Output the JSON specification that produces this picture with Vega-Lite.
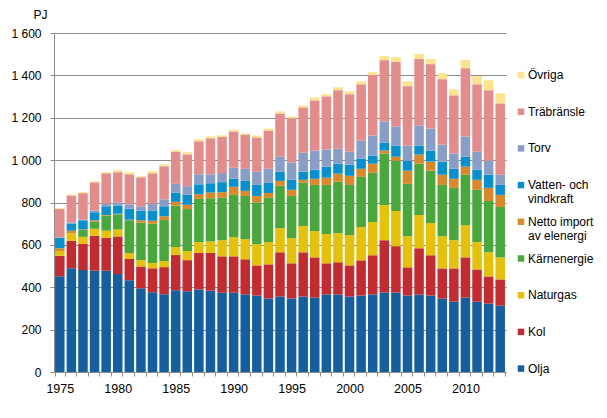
{
  "$schema": "https://vega.github.io/schema/vega-lite/v6.json",
  "width": 452,
  "height": 339,
  "autosize": {"type": "none"},
  "padding": {"left": 54, "top": 33, "right": 101, "bottom": 46},
  "config": {
    "view": {"stroke": null},
    "font": "Liberation Sans",
    "axis": {
      "labelFont": "Liberation Sans",
      "labelFontSize": 12,
      "labelColor": "#000000",
      "domainColor": "#8c8c8c",
      "tickColor": "#8c8c8c",
      "gridColor": "#8c8c8c",
      "gridOpacity": 1,
      "tickSize": 4
    }
  },
  "data": {
    "values": [
      {"year": 1975, "source": "Olja", "pj": 452}, {"year": 1975, "source": "Kol", "pj": 96}, {"year": 1975, "source": "Naturgas", "pj": 23}, {"year": 1975, "source": "Kärnenergie", "pj": 0}, {"year": 1975, "source": "Netto import av elenergi", "pj": 13}, {"year": 1975, "source": "Vatten- och vindkraft", "pj": 49}, {"year": 1975, "source": "Torv", "pj": 2}, {"year": 1975, "source": "Träbränsle", "pj": 134}, {"year": 1975, "source": "Övriga", "pj": 4},
      {"year": 1976, "source": "Olja", "pj": 490}, {"year": 1976, "source": "Kol", "pj": 129}, {"year": 1976, "source": "Naturgas", "pj": 35}, {"year": 1976, "source": "Kärnenergie", "pj": 0}, {"year": 1976, "source": "Netto import av elenergi", "pj": 13}, {"year": 1976, "source": "Vatten- och vindkraft", "pj": 34}, {"year": 1976, "source": "Torv", "pj": 5}, {"year": 1976, "source": "Träbränsle", "pj": 127}, {"year": 1976, "source": "Övriga", "pj": 5},
      {"year": 1977, "source": "Olja", "pj": 481}, {"year": 1977, "source": "Kol", "pj": 124}, {"year": 1977, "source": "Naturgas", "pj": 33}, {"year": 1977, "source": "Kärnenergie", "pj": 32}, {"year": 1977, "source": "Netto import av elenergi", "pj": 3}, {"year": 1977, "source": "Vatten- och vindkraft", "pj": 43}, {"year": 1977, "source": "Torv", "pj": 3}, {"year": 1977, "source": "Träbränsle", "pj": 125}, {"year": 1977, "source": "Övriga", "pj": 5},
      {"year": 1978, "source": "Olja", "pj": 478}, {"year": 1978, "source": "Kol", "pj": 165}, {"year": 1978, "source": "Naturgas", "pj": 33}, {"year": 1978, "source": "Kärnenergie", "pj": 33}, {"year": 1978, "source": "Netto import av elenergi", "pj": 7}, {"year": 1978, "source": "Vatten- och vindkraft", "pj": 38}, {"year": 1978, "source": "Torv", "pj": 8}, {"year": 1978, "source": "Träbränsle", "pj": 133}, {"year": 1978, "source": "Övriga", "pj": 5},
      {"year": 1979, "source": "Olja", "pj": 478}, {"year": 1979, "source": "Kol", "pj": 155}, {"year": 1979, "source": "Naturgas", "pj": 34}, {"year": 1979, "source": "Kärnenergie", "pj": 71}, {"year": 1979, "source": "Netto import av elenergi", "pj": 3}, {"year": 1979, "source": "Vatten- och vindkraft", "pj": 41}, {"year": 1979, "source": "Torv", "pj": 13}, {"year": 1979, "source": "Träbränsle", "pj": 143}, {"year": 1979, "source": "Övriga", "pj": 5},
      {"year": 1980, "source": "Olja", "pj": 462}, {"year": 1980, "source": "Kol", "pj": 178}, {"year": 1980, "source": "Naturgas", "pj": 33}, {"year": 1980, "source": "Kärnenergie", "pj": 71}, {"year": 1980, "source": "Netto import av elenergi", "pj": 3}, {"year": 1980, "source": "Vatten- och vindkraft", "pj": 39}, {"year": 1980, "source": "Torv", "pj": 15}, {"year": 1980, "source": "Träbränsle", "pj": 142}, {"year": 1980, "source": "Övriga", "pj": 9},
      {"year": 1981, "source": "Olja", "pj": 433}, {"year": 1981, "source": "Kol", "pj": 100}, {"year": 1981, "source": "Naturgas", "pj": 29}, {"year": 1981, "source": "Kärnenergie", "pj": 154}, {"year": 1981, "source": "Netto import av elenergi", "pj": 3}, {"year": 1981, "source": "Vatten- och vindkraft", "pj": 52}, {"year": 1981, "source": "Torv", "pj": 21}, {"year": 1981, "source": "Träbränsle", "pj": 141}, {"year": 1981, "source": "Övriga", "pj": 10},
      {"year": 1982, "source": "Olja", "pj": 395}, {"year": 1982, "source": "Kol", "pj": 103}, {"year": 1982, "source": "Naturgas", "pj": 30}, {"year": 1982, "source": "Kärnenergie", "pj": 177}, {"year": 1982, "source": "Netto import av elenergi", "pj": 11}, {"year": 1982, "source": "Vatten- och vindkraft", "pj": 46}, {"year": 1982, "source": "Torv", "pj": 20}, {"year": 1982, "source": "Träbränsle", "pj": 137}, {"year": 1982, "source": "Övriga", "pj": 5},
      {"year": 1983, "source": "Olja", "pj": 376}, {"year": 1983, "source": "Kol", "pj": 114}, {"year": 1983, "source": "Naturgas", "pj": 24}, {"year": 1983, "source": "Kärnenergie", "pj": 186}, {"year": 1983, "source": "Netto import av elenergi", "pj": 14}, {"year": 1983, "source": "Vatten- och vindkraft", "pj": 48}, {"year": 1983, "source": "Torv", "pj": 32}, {"year": 1983, "source": "Träbränsle", "pj": 144}, {"year": 1983, "source": "Övriga", "pj": 9},
      {"year": 1984, "source": "Olja", "pj": 367}, {"year": 1984, "source": "Kol", "pj": 128}, {"year": 1984, "source": "Naturgas", "pj": 29}, {"year": 1984, "source": "Kärnenergie", "pj": 193}, {"year": 1984, "source": "Netto import av elenergi", "pj": 18}, {"year": 1984, "source": "Vatten- och vindkraft", "pj": 47}, {"year": 1984, "source": "Torv", "pj": 33}, {"year": 1984, "source": "Träbränsle", "pj": 156}, {"year": 1984, "source": "Övriga", "pj": 9},
      {"year": 1985, "source": "Olja", "pj": 386}, {"year": 1985, "source": "Kol", "pj": 166}, {"year": 1985, "source": "Naturgas", "pj": 38}, {"year": 1985, "source": "Kärnenergie", "pj": 195}, {"year": 1985, "source": "Netto import av elenergi", "pj": 18}, {"year": 1985, "source": "Vatten- och vindkraft", "pj": 43}, {"year": 1985, "source": "Torv", "pj": 42}, {"year": 1985, "source": "Träbränsle", "pj": 152}, {"year": 1985, "source": "Övriga", "pj": 8},
      {"year": 1986, "source": "Olja", "pj": 381}, {"year": 1986, "source": "Kol", "pj": 147}, {"year": 1986, "source": "Naturgas", "pj": 43}, {"year": 1986, "source": "Kärnenergie", "pj": 198}, {"year": 1986, "source": "Netto import av elenergi", "pj": 20}, {"year": 1986, "source": "Vatten- och vindkraft", "pj": 47}, {"year": 1986, "source": "Torv", "pj": 41}, {"year": 1986, "source": "Träbränsle", "pj": 150}, {"year": 1986, "source": "Övriga", "pj": 10},
      {"year": 1987, "source": "Olja", "pj": 390}, {"year": 1987, "source": "Kol", "pj": 172}, {"year": 1987, "source": "Naturgas", "pj": 51}, {"year": 1987, "source": "Kärnenergie", "pj": 204}, {"year": 1987, "source": "Netto import av elenergi", "pj": 22}, {"year": 1987, "source": "Vatten- och vindkraft", "pj": 47}, {"year": 1987, "source": "Torv", "pj": 47}, {"year": 1987, "source": "Träbränsle", "pj": 156}, {"year": 1987, "source": "Övriga", "pj": 9},
      {"year": 1988, "source": "Olja", "pj": 384}, {"year": 1988, "source": "Kol", "pj": 178}, {"year": 1988, "source": "Naturgas", "pj": 54}, {"year": 1988, "source": "Kärnenergie", "pj": 204}, {"year": 1988, "source": "Netto import av elenergi", "pj": 27}, {"year": 1988, "source": "Vatten- och vindkraft", "pj": 44}, {"year": 1988, "source": "Torv", "pj": 42}, {"year": 1988, "source": "Träbränsle", "pj": 170}, {"year": 1988, "source": "Övriga", "pj": 9},
      {"year": 1989, "source": "Olja", "pj": 374}, {"year": 1989, "source": "Kol", "pj": 172}, {"year": 1989, "source": "Naturgas", "pj": 76}, {"year": 1989, "source": "Kärnenergie", "pj": 200}, {"year": 1989, "source": "Netto import av elenergi", "pj": 27}, {"year": 1989, "source": "Vatten- och vindkraft", "pj": 47}, {"year": 1989, "source": "Torv", "pj": 43}, {"year": 1989, "source": "Träbränsle", "pj": 170}, {"year": 1989, "source": "Övriga", "pj": 8},
      {"year": 1990, "source": "Olja", "pj": 374}, {"year": 1990, "source": "Kol", "pj": 172}, {"year": 1990, "source": "Naturgas", "pj": 90}, {"year": 1990, "source": "Kärnenergie", "pj": 200}, {"year": 1990, "source": "Netto import av elenergi", "pj": 38}, {"year": 1990, "source": "Vatten- och vindkraft", "pj": 38}, {"year": 1990, "source": "Torv", "pj": 52}, {"year": 1990, "source": "Träbränsle", "pj": 171}, {"year": 1990, "source": "Övriga", "pj": 8},
      {"year": 1991, "source": "Olja", "pj": 366}, {"year": 1991, "source": "Kol", "pj": 166}, {"year": 1991, "source": "Naturgas", "pj": 95}, {"year": 1991, "source": "Kärnenergie", "pj": 204}, {"year": 1991, "source": "Netto import av elenergi", "pj": 24}, {"year": 1991, "source": "Vatten- och vindkraft", "pj": 47}, {"year": 1991, "source": "Torv", "pj": 57}, {"year": 1991, "source": "Träbränsle", "pj": 162}, {"year": 1991, "source": "Övriga", "pj": 5},
      {"year": 1992, "source": "Olja", "pj": 361}, {"year": 1992, "source": "Kol", "pj": 142}, {"year": 1992, "source": "Naturgas", "pj": 100}, {"year": 1992, "source": "Kärnenergie", "pj": 198}, {"year": 1992, "source": "Netto import av elenergi", "pj": 30}, {"year": 1992, "source": "Vatten- och vindkraft", "pj": 52}, {"year": 1992, "source": "Torv", "pj": 62}, {"year": 1992, "source": "Träbränsle", "pj": 162}, {"year": 1992, "source": "Övriga", "pj": 9},
      {"year": 1993, "source": "Olja", "pj": 347}, {"year": 1993, "source": "Kol", "pj": 161}, {"year": 1993, "source": "Naturgas", "pj": 105}, {"year": 1993, "source": "Kärnenergie", "pj": 209}, {"year": 1993, "source": "Netto import av elenergi", "pj": 23}, {"year": 1993, "source": "Vatten- och vindkraft", "pj": 48}, {"year": 1993, "source": "Torv", "pj": 66}, {"year": 1993, "source": "Träbränsle", "pj": 181}, {"year": 1993, "source": "Övriga", "pj": 9},
      {"year": 1994, "source": "Olja", "pj": 356}, {"year": 1994, "source": "Kol", "pj": 209}, {"year": 1994, "source": "Naturgas", "pj": 114}, {"year": 1994, "source": "Kärnenergie", "pj": 200}, {"year": 1994, "source": "Netto import av elenergi", "pj": 23}, {"year": 1994, "source": "Vatten- och vindkraft", "pj": 43}, {"year": 1994, "source": "Torv", "pj": 71}, {"year": 1994, "source": "Träbränsle", "pj": 204}, {"year": 1994, "source": "Övriga", "pj": 10},
      {"year": 1995, "source": "Olja", "pj": 347}, {"year": 1995, "source": "Kol", "pj": 166}, {"year": 1995, "source": "Naturgas", "pj": 119}, {"year": 1995, "source": "Kärnenergie", "pj": 199}, {"year": 1995, "source": "Netto import av elenergi", "pj": 29}, {"year": 1995, "source": "Vatten- och vindkraft", "pj": 47}, {"year": 1995, "source": "Torv", "pj": 81}, {"year": 1995, "source": "Träbränsle", "pj": 209}, {"year": 1995, "source": "Övriga", "pj": 9},
      {"year": 1996, "source": "Olja", "pj": 356}, {"year": 1996, "source": "Kol", "pj": 209}, {"year": 1996, "source": "Naturgas", "pj": 124}, {"year": 1996, "source": "Kärnenergie", "pj": 204}, {"year": 1996, "source": "Netto import av elenergi", "pj": 14}, {"year": 1996, "source": "Vatten- och vindkraft", "pj": 38}, {"year": 1996, "source": "Torv", "pj": 90}, {"year": 1996, "source": "Träbränsle", "pj": 214}, {"year": 1996, "source": "Övriga", "pj": 9},
      {"year": 1997, "source": "Olja", "pj": 351}, {"year": 1997, "source": "Kol", "pj": 190}, {"year": 1997, "source": "Naturgas", "pj": 124}, {"year": 1997, "source": "Kärnenergie", "pj": 218}, {"year": 1997, "source": "Netto import av elenergi", "pj": 29}, {"year": 1997, "source": "Vatten- och vindkraft", "pj": 43}, {"year": 1997, "source": "Torv", "pj": 90}, {"year": 1997, "source": "Träbränsle", "pj": 237}, {"year": 1997, "source": "Övriga", "pj": 14},
      {"year": 1998, "source": "Olja", "pj": 366}, {"year": 1998, "source": "Kol", "pj": 147}, {"year": 1998, "source": "Naturgas", "pj": 138}, {"year": 1998, "source": "Kärnenergie", "pj": 232}, {"year": 1998, "source": "Netto import av elenergi", "pj": 34}, {"year": 1998, "source": "Vatten- och vindkraft", "pj": 52}, {"year": 1998, "source": "Torv", "pj": 81}, {"year": 1998, "source": "Träbränsle", "pj": 251}, {"year": 1998, "source": "Övriga", "pj": 10},
      {"year": 1999, "source": "Olja", "pj": 366}, {"year": 1999, "source": "Kol", "pj": 152}, {"year": 1999, "source": "Naturgas", "pj": 137}, {"year": 1999, "source": "Kärnenergie", "pj": 243}, {"year": 1999, "source": "Netto import av elenergi", "pj": 38}, {"year": 1999, "source": "Vatten- och vindkraft", "pj": 47}, {"year": 1999, "source": "Torv", "pj": 71}, {"year": 1999, "source": "Träbränsle", "pj": 276}, {"year": 1999, "source": "Övriga", "pj": 14},
      {"year": 2000, "source": "Olja", "pj": 356}, {"year": 2000, "source": "Kol", "pj": 147}, {"year": 2000, "source": "Naturgas", "pj": 143}, {"year": 2000, "source": "Kärnenergie", "pj": 237}, {"year": 2000, "source": "Netto import av elenergi", "pj": 43}, {"year": 2000, "source": "Vatten- och vindkraft", "pj": 52}, {"year": 2000, "source": "Torv", "pj": 62}, {"year": 2000, "source": "Träbränsle", "pj": 271}, {"year": 2000, "source": "Övriga", "pj": 14},
      {"year": 2001, "source": "Olja", "pj": 361}, {"year": 2001, "source": "Kol", "pj": 166}, {"year": 2001, "source": "Naturgas", "pj": 157}, {"year": 2001, "source": "Kärnenergie", "pj": 237}, {"year": 2001, "source": "Netto import av elenergi", "pj": 38}, {"year": 2001, "source": "Vatten- och vindkraft", "pj": 48}, {"year": 2001, "source": "Torv", "pj": 85}, {"year": 2001, "source": "Träbränsle", "pj": 266}, {"year": 2001, "source": "Övriga", "pj": 14},
      {"year": 2002, "source": "Olja", "pj": 366}, {"year": 2002, "source": "Kol", "pj": 185}, {"year": 2002, "source": "Naturgas", "pj": 157}, {"year": 2002, "source": "Kärnenergie", "pj": 232}, {"year": 2002, "source": "Netto import av elenergi", "pj": 43}, {"year": 2002, "source": "Vatten- och vindkraft", "pj": 38}, {"year": 2002, "source": "Torv", "pj": 95}, {"year": 2002, "source": "Träbränsle", "pj": 285}, {"year": 2002, "source": "Övriga", "pj": 14},
      {"year": 2003, "source": "Olja", "pj": 375}, {"year": 2003, "source": "Kol", "pj": 247}, {"year": 2003, "source": "Naturgas", "pj": 166}, {"year": 2003, "source": "Kärnenergie", "pj": 243}, {"year": 2003, "source": "Netto import av elenergi", "pj": 14}, {"year": 2003, "source": "Vatten- och vindkraft", "pj": 38}, {"year": 2003, "source": "Torv", "pj": 100}, {"year": 2003, "source": "Träbränsle", "pj": 289}, {"year": 2003, "source": "Övriga", "pj": 19},
      {"year": 2004, "source": "Olja", "pj": 375}, {"year": 2004, "source": "Kol", "pj": 219}, {"year": 2004, "source": "Naturgas", "pj": 166}, {"year": 2004, "source": "Kärnenergie", "pj": 237}, {"year": 2004, "source": "Netto import av elenergi", "pj": 19}, {"year": 2004, "source": "Vatten- och vindkraft", "pj": 53}, {"year": 2004, "source": "Torv", "pj": 90}, {"year": 2004, "source": "Träbränsle", "pj": 304}, {"year": 2004, "source": "Övriga", "pj": 23},
      {"year": 2005, "source": "Olja", "pj": 361}, {"year": 2005, "source": "Kol", "pj": 133}, {"year": 2005, "source": "Naturgas", "pj": 147}, {"year": 2005, "source": "Kärnenergie", "pj": 247}, {"year": 2005, "source": "Netto import av elenergi", "pj": 62}, {"year": 2005, "source": "Vatten- och vindkraft", "pj": 47}, {"year": 2005, "source": "Torv", "pj": 72}, {"year": 2005, "source": "Träbränsle", "pj": 280}, {"year": 2005, "source": "Övriga", "pj": 23},
      {"year": 2006, "source": "Olja", "pj": 366}, {"year": 2006, "source": "Kol", "pj": 218}, {"year": 2006, "source": "Naturgas", "pj": 157}, {"year": 2006, "source": "Kärnenergie", "pj": 242}, {"year": 2006, "source": "Netto import av elenergi", "pj": 43}, {"year": 2006, "source": "Vatten- och vindkraft", "pj": 43}, {"year": 2006, "source": "Torv", "pj": 94}, {"year": 2006, "source": "Träbränsle", "pj": 314}, {"year": 2006, "source": "Övriga", "pj": 24},
      {"year": 2007, "source": "Olja", "pj": 361}, {"year": 2007, "source": "Kol", "pj": 190}, {"year": 2007, "source": "Naturgas", "pj": 152}, {"year": 2007, "source": "Kärnenergie", "pj": 247}, {"year": 2007, "source": "Netto import av elenergi", "pj": 43}, {"year": 2007, "source": "Vatten- och vindkraft", "pj": 52}, {"year": 2007, "source": "Torv", "pj": 104}, {"year": 2007, "source": "Träbränsle", "pj": 304}, {"year": 2007, "source": "Övriga", "pj": 24},
      {"year": 2008, "source": "Olja", "pj": 347}, {"year": 2008, "source": "Kol", "pj": 142}, {"year": 2008, "source": "Naturgas", "pj": 152}, {"year": 2008, "source": "Kärnenergie", "pj": 242}, {"year": 2008, "source": "Netto import av elenergi", "pj": 48}, {"year": 2008, "source": "Vatten- och vindkraft", "pj": 62}, {"year": 2008, "source": "Torv", "pj": 80}, {"year": 2008, "source": "Träbränsle", "pj": 309}, {"year": 2008, "source": "Övriga", "pj": 28},
      {"year": 2009, "source": "Olja", "pj": 332}, {"year": 2009, "source": "Kol", "pj": 157}, {"year": 2009, "source": "Naturgas", "pj": 133}, {"year": 2009, "source": "Kärnenergie", "pj": 247}, {"year": 2009, "source": "Netto import av elenergi", "pj": 43}, {"year": 2009, "source": "Vatten- och vindkraft", "pj": 47}, {"year": 2009, "source": "Torv", "pj": 72}, {"year": 2009, "source": "Träbränsle", "pj": 275}, {"year": 2009, "source": "Övriga", "pj": 28},
      {"year": 2010, "source": "Olja", "pj": 351}, {"year": 2010, "source": "Kol", "pj": 190}, {"year": 2010, "source": "Naturgas", "pj": 152}, {"year": 2010, "source": "Kärnenergie", "pj": 238}, {"year": 2010, "source": "Netto import av elenergi", "pj": 38}, {"year": 2010, "source": "Vatten- och vindkraft", "pj": 47}, {"year": 2010, "source": "Torv", "pj": 95}, {"year": 2010, "source": "Träbränsle", "pj": 323}, {"year": 2010, "source": "Övriga", "pj": 38},
      {"year": 2011, "source": "Olja", "pj": 332}, {"year": 2011, "source": "Kol", "pj": 152}, {"year": 2011, "source": "Naturgas", "pj": 129}, {"year": 2011, "source": "Kärnenergie", "pj": 247}, {"year": 2011, "source": "Netto import av elenergi", "pj": 47}, {"year": 2011, "source": "Vatten- och vindkraft", "pj": 48}, {"year": 2011, "source": "Torv", "pj": 85}, {"year": 2011, "source": "Träbränsle", "pj": 318}, {"year": 2011, "source": "Övriga", "pj": 38},
      {"year": 2012, "source": "Olja", "pj": 323}, {"year": 2012, "source": "Kol", "pj": 128}, {"year": 2012, "source": "Naturgas", "pj": 114}, {"year": 2012, "source": "Kärnenergie", "pj": 242}, {"year": 2012, "source": "Netto import av elenergi", "pj": 62}, {"year": 2012, "source": "Vatten- och vindkraft", "pj": 62}, {"year": 2012, "source": "Torv", "pj": 66}, {"year": 2012, "source": "Träbränsle", "pj": 333}, {"year": 2012, "source": "Övriga", "pj": 47},
      {"year": 2013, "source": "Olja", "pj": 313}, {"year": 2013, "source": "Kol", "pj": 124}, {"year": 2013, "source": "Naturgas", "pj": 104}, {"year": 2013, "source": "Kärnenergie", "pj": 238}, {"year": 2013, "source": "Netto import av elenergi", "pj": 57}, {"year": 2013, "source": "Vatten- och vindkraft", "pj": 47}, {"year": 2013, "source": "Torv", "pj": 48}, {"year": 2013, "source": "Träbränsle", "pj": 337}, {"year": 2013, "source": "Övriga", "pj": 47}
    ]
  },
  "transform": [
    {
      "calculate": "indexof(['Olja', 'Kol', 'Naturgas', 'Kärnenergie', 'Netto import av elenergi', 'Vatten- och vindkraft', 'Torv', 'Träbränsle', 'Övriga'], datum.source)",
      "as": "stack_order"
    }
  ],
  "mark": {"type": "bar"},
  "encoding": {
    "x": {
      "field": "year",
      "type": "ordinal",
      "scale": {"paddingInner": 0.18, "paddingOuter": 0.09},
      "axis": {
        "title": null,
        "tickBand": "extent",
        "labelAngle": 0,
        "labelOverlap": false,
        "labelFontSize": 12.5,
        "labelPadding": 6,
        "labelExpr": "datum.value % 5 == 0 ? datum.label : ''"
      }
    },
    "y": {
      "field": "pj",
      "type": "quantitative",
      "stack": "zero",
      "scale": {"domain": [0, 1600], "nice": false},
      "axis": {
        "title": "PJ",
        "titleAngle": 0,
        "titleX": -14,
        "titleY": -15,
        "titleAlign": "center",
        "titleBaseline": "alphabetic",
        "titleFontWeight": "normal",
        "titleFontSize": 12,
        "titleFont": "Liberation Sans",
        "titleColor": "#000000",
        "values": [0, 200, 400, 600, 800, 1000, 1200, 1400, 1600],
        "labelExpr": "replace(format(datum.value, ','), ',', ' ')",
        "labelPadding": 9
      }
    },
    "color": {
      "field": "source",
      "type": "nominal",
      "scale": {
        "domain": ["Övriga", "Träbränsle", "Torv", "Vatten- och vindkraft", "Netto import av elenergi", "Kärnenergie", "Naturgas", "Kol", "Olja"],
        "range": ["#fde38b", "#e48b8c", "#889ec9", "#0790d0", "#da8829", "#48a83c", "#e5c10a", "#c32b30", "#155ea0"]
      },
      "legend": {
        "orient": "none",
        "legendX": 461,
        "legendY": 36,
        "title": null,
        "padding": 0,
        "symbolType": "square",
        "symbolSize": 42,
        "symbolStrokeWidth": 0,
        "labelFont": "Liberation Sans",
        "labelFontSize": 12,
        "labelColor": "#000000",
        "labelOffset": 1,
        "labelLimit": 120,
        "gridAlign": "all",
        "rowPadding": 10.7,
        "labelExpr": "datum.label == 'Vatten- och vindkraft' ? ['Vatten- och', 'vindkraft'] : datum.label == 'Netto import av elenergi' ? ['Netto import', 'av elenergi'] : datum.label"
      }
    },
    "order": {"field": "stack_order", "type": "quantitative"}
  }
}
